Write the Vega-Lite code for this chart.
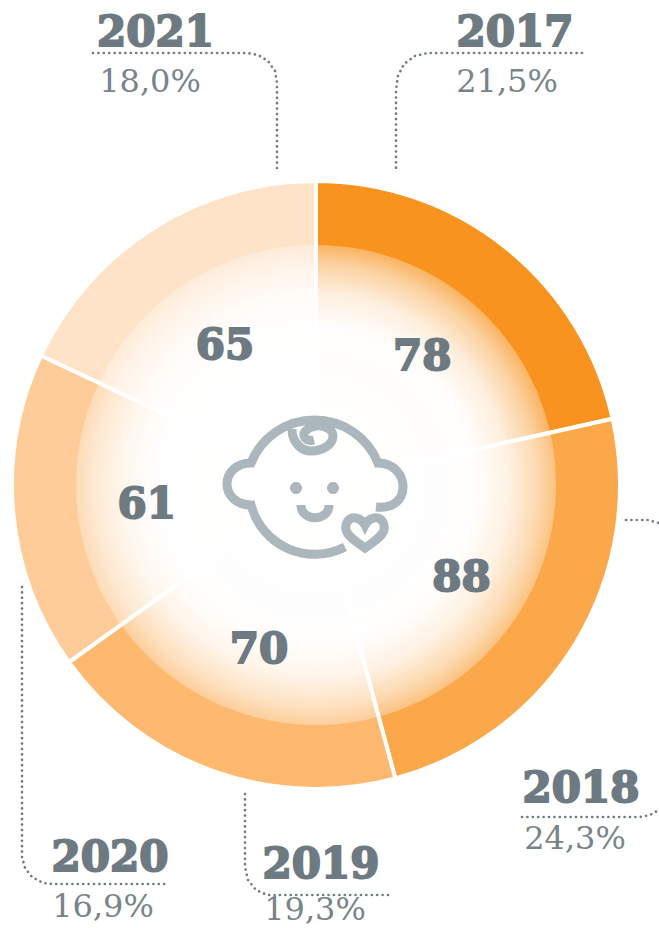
{
"$schema":"https://vega.github.io/schema/vega-lite/v6.json",
"autosize":{"type":"none"},
"padding":{"left":0,"top":42,"right":27,"bottom":0},
"width":632,"height":886,
"background":"#ffffff",
"config":{"view":{"stroke":null},"locale":{"number":{"decimal":",","thousands":" ","grouping":[3],"currency":["",""]}}},
"datasets":{
"years":[
{"year":"2017","share":0.215,"count":78,"yearX":199,"yearY":439,"pctX":191,"pctY":393},
{"year":"2018","share":0.243,"count":88,"yearX":265,"yearY":-317,"pctX":259,"pctY":-364},
{"year":"2019","share":0.193,"count":70,"yearX":5,"yearY":-393,"pctX":-1,"pctY":-435},
{"year":"2020","share":0.169,"count":61,"yearX":-206,"yearY":-386,"pctX":-213,"pctY":-432},
{"year":"2021","share":0.18,"count":65,"yearX":-160.5,"yearY":439,"pctX":-166,"pctY":393}
],
"leaders":[
{"line":"2021","step":1,"x":-223,"y":432},{"line":"2021","step":2,"x":-69,"y":432},{"line":"2021","step":3,"x":-58,"y":430},{"line":"2021","step":4,"x":-48,"y":424},{"line":"2021","step":5,"x":-41,"y":414},{"line":"2021","step":6,"x":-39,"y":402},{"line":"2021","step":7,"x":-39,"y":315},
{"line":"2017","step":1,"x":266,"y":432},{"line":"2017","step":2,"x":112,"y":432},{"line":"2017","step":3,"x":99,"y":429},{"line":"2017","step":4,"x":88,"y":421},{"line":"2017","step":5,"x":82,"y":409},{"line":"2017","step":6,"x":80,"y":395},{"line":"2017","step":7,"x":80,"y":315},
{"line":"2018a","step":1,"x":310,"y":-35},{"line":"2018a","step":2,"x":332,"y":-35},{"line":"2018a","step":3,"x":343,"y":-38},
{"line":"2018b","step":1,"x":206,"y":-332},{"line":"2018b","step":2,"x":324,"y":-332},{"line":"2018b","step":3,"x":334,"y":-330},{"line":"2018b","step":4,"x":343,"y":-325},
{"line":"2020","step":1,"x":-294,"y":-102},{"line":"2020","step":2,"x":-294,"y":-372},{"line":"2020","step":3,"x":-291,"y":-383},{"line":"2020","step":4,"x":-284,"y":-392},{"line":"2020","step":5,"x":-273,"y":-398},{"line":"2020","step":6,"x":-264,"y":-399},{"line":"2020","step":7,"x":-148,"y":-399},
{"line":"2019","step":1,"x":-71,"y":-309},{"line":"2019","step":2,"x":-71,"y":-382},{"line":"2019","step":3,"x":-68,"y":-395},{"line":"2019","step":4,"x":-60,"y":-405},{"line":"2019","step":5,"x":-49,"y":-410},{"line":"2019","step":6,"x":76,"y":-410}
],
"centre":[{"x":0,"y":0}]
},
"layer":[
{"data":{"name":"years"},
"mark":{"type":"arc","outerRadius":304,"stroke":"#ffffff","strokeWidth":4},
"encoding":{
"theta":{"field":"share","type":"quantitative","stack":true},
"order":{"field":"year"},
"color":{"field":"year","type":"nominal","legend":null,"scale":{"domain":["2017","2018","2019","2020","2021"],"range":["#F7931E","#FAA84A","#FCB96F","#FDCC98","#FEE3C8"]}}
}},
{"data":{"name":"centre"},
"mark":{"type":"point","shape":"circle","size":230400,"opacity":1,"strokeWidth":0,
"fill":{"gradient":"radial","x1":0.5,"y1":0.5,"r1":0,"x2":0.5,"y2":0.5,"r2":0.5,
"stops":[{"offset":0,"color":"rgba(255,255,255,1)"},{"offset":0.66,"color":"rgba(255,255,255,0.99)"},{"offset":0.8,"color":"rgba(255,255,255,0.85)"},{"offset":0.92,"color":"rgba(255,255,255,0.58)"},{"offset":1,"color":"rgba(255,255,255,0.3)"}]}},
"encoding":{
"x":{"field":"x","type":"quantitative","axis":null,"scale":{"domain":[-316,316],"nice":false,"zero":false}},
"y":{"field":"y","type":"quantitative","axis":null,"scale":{"domain":[-443,443],"nice":false,"zero":false}}
}},
{"data":{"name":"leaders"},
"mark":{"type":"line","stroke":"#6E7A81","strokeWidth":2.7,"strokeCap":"round","strokeDash":[0,5.4],"interpolate":"linear"},
"encoding":{
"x":{"field":"x","type":"quantitative","axis":null,"scale":{"domain":[-316,316],"nice":false,"zero":false}},
"y":{"field":"y","type":"quantitative","axis":null,"scale":{"domain":[-443,443],"nice":false,"zero":false}},
"detail":{"field":"line"},
"order":{"field":"step"}
}},
{"data":{"name":"years"},
"mark":{"type":"text","radius":170,"dy":5,"font":"DejaVu Serif","fontWeight":"bold","fontSize":42,"baseline":"middle","align":"center","fill":"#6E7A81","stroke":"#6E7A81","strokeWidth":2},
"encoding":{
"theta":{"field":"share","type":"quantitative","stack":true},
"order":{"field":"year"},
"text":{"field":"count","type":"quantitative"}
}},
{"data":{"name":"years"},
"mark":{"type":"text","font":"DejaVu Serif","fontWeight":"bold","fontSize":42,"baseline":"alphabetic","align":"center","fill":"#6E7A81","stroke":"#6E7A81","strokeWidth":2},
"encoding":{
"x":{"field":"yearX","type":"quantitative","axis":null,"scale":{"domain":[-316,316],"nice":false,"zero":false}},
"y":{"field":"yearY","type":"quantitative","axis":null,"scale":{"domain":[-443,443],"nice":false,"zero":false}},
"text":{"field":"year","type":"nominal"}
}},
{"data":{"name":"years"},
"mark":{"type":"text","font":"DejaVu Serif","fontSize":32,"baseline":"alphabetic","align":"center","fill":"#78848A"},
"encoding":{
"x":{"field":"pctX","type":"quantitative","axis":null,"scale":{"domain":[-316,316],"nice":false,"zero":false}},
"y":{"field":"pctY","type":"quantitative","axis":null,"scale":{"domain":[-443,443],"nice":false,"zero":false}},
"text":{"field":"share","type":"quantitative","format":".1%"}
}},
{"data":{"name":"centre"},
"mark":{"type":"point","size":4,"opacity":1,"fill":null,"stroke":"#ABB6BD","strokeWidth":9,"strokeCap":"butt",
"shape":"M29 62 A66 66 0 0 1 -65 20 C-80 20 -89 10 -89 -1 C-89 -12 -80 -22 -65 -22 A68.4 68.4 0 0 1 62 -22 C78 -22 87 -10 87 2 C87 14 78 24 60 22 M-24 -56 C-24 -42 -14 -34 -5 -34 C6 -34 17 -40 17 -49 C17 -56 8 -60 0 -59 C-8 -58 -13 -53 -12 -49 C-11 -45 -6 -44 -2 -45 M-15 20 C-15 37 13 37 13 20 M49 40 C46 34 40 32 36 33 C31 35 29 40 30 45 C32 52 42 58 49 63 C56 58 66 52 68 45 C69 40 67 35 62 33 C58 32 52 34 49 40 Z"},
"encoding":{
"x":{"field":"x","type":"quantitative","axis":null,"scale":{"domain":[-316,316],"nice":false,"zero":false}},
"y":{"field":"y","type":"quantitative","axis":null,"scale":{"domain":[-443,443],"nice":false,"zero":false}}
}},
{"data":{"name":"centre"},
"mark":{"type":"point","size":4,"opacity":1,"filled":true,"fill":"#ABB6BD","stroke":null,
"shape":"M-26 3 A6 6 0 1 1 -14 3 A6 6 0 1 1 -26 3 Z M11 3 A6 6 0 1 1 23 3 A6 6 0 1 1 11 3 Z"},
"encoding":{
"x":{"field":"x","type":"quantitative","axis":null,"scale":{"domain":[-316,316],"nice":false,"zero":false}},
"y":{"field":"y","type":"quantitative","axis":null,"scale":{"domain":[-443,443],"nice":false,"zero":false}}
}}
]
}
